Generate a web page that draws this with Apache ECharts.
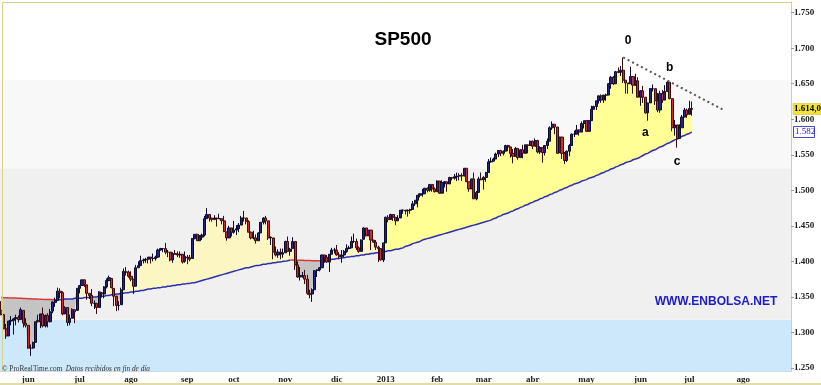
<!DOCTYPE html>
<html><head><meta charset="utf-8">
<script src="https://cdn.jsdelivr.net/npm/echarts@6/dist/echarts.min.js"></script>
<style>html,body{margin:0;padding:0;background:#fff}#c{width:821px;height:385px}</style>
</head><body><div id="c"></div>
<script>
// ---- data: daily [open, close, low, high] per month ----
const monthNames = ['may','jun','jul','ago','sep','oct','nov','dic','2013','feb','mar','abr','may','jun','jul','ago'];
const may12 = [[1331,1325,1324,1344],[1325,1305,1305,1326],[1305,1295,1291,1312],[1295,1316,1295,1316],[1316,1317,1310,1323],[1317,1319,1297,1320],[1319,1321,1310,1325],[1321,1318,1314,1324],[1318,1332,1318,1335],[1331,1313,1307,1331],[1313,1310,1307,1320]];
const jun12 = [[1310,1278,1277,1310],[1278,1278,1267,1283],[1278,1286,1277,1287],[1286,1315,1286,1315],[1317,1315,1314,1325],[1315,1326,1306,1326],[1326,1309,1307,1335],[1309,1324,1307,1325],[1324,1315,1307,1327],[1315,1329,1314,1333],[1330,1343,1327,1343],[1342,1345,1336,1349],[1345,1358,1345,1363],[1358,1356,1348,1362],[1356,1326,1324,1358],[1326,1335,1326,1337],[1335,1314,1309,1335],[1314,1320,1310,1325],[1320,1332,1320,1334],[1332,1329,1313,1332],[1331,1362,1331,1362]];
const jul12 = [[1362,1366,1355,1366],[1366,1374,1366,1374],[1374,1368,1364,1374],[1367,1355,1346,1367],[1355,1352,1347,1355],[1352,1341,1337,1361],[1341,1341,1333,1345],[1341,1335,1326,1341],[1335,1357,1335,1358],[1356,1354,1349,1357],[1354,1364,1348,1365],[1364,1373,1362,1376],[1373,1377,1372,1380],[1376,1363,1362,1376],[1362,1351,1337,1362],[1351,1338,1330,1351],[1338,1338,1331,1344],[1339,1360,1339,1363],[1360,1386,1360,1390],[1385,1385,1380,1392],[1385,1379,1377,1387]];
const ago12 = [[1379,1375,1372,1386],[1375,1365,1354,1375],[1365,1391,1365,1395],[1391,1394,1391,1400],[1394,1401,1394,1408],[1401,1402,1397,1404],[1402,1403,1398,1405],[1403,1406,1397,1406],[1406,1404,1397,1406],[1404,1404,1400,1411],[1404,1406,1401,1408],[1406,1416,1405,1418],[1416,1418,1415,1419],[1418,1418,1413,1418],[1418,1413,1410,1426],[1413,1413,1406,1416],[1413,1402,1400,1413],[1402,1411,1398,1413],[1411,1410,1409,1416],[1410,1409,1406,1414],[1409,1410,1405,1414],[1410,1399,1397,1410],[1400,1407,1398,1414]];
const sep12 = [[1406,1405,1396,1409],[1405,1403,1400,1409],[1404,1432,1404,1433],[1432,1438,1431,1438],[1438,1429,1429,1439],[1429,1434,1429,1437],[1434,1437,1430,1439],[1437,1460,1435,1464],[1460,1466,1460,1475],[1466,1461,1456,1466],[1461,1459,1456,1461],[1459,1461,1458,1465],[1461,1460,1449,1461],[1460,1460,1460,1467],[1460,1457,1452,1460],[1457,1442,1441,1464],[1441,1433,1429,1442],[1433,1447,1433,1450],[1447,1441,1435,1447]];
const oct12 = [[1441,1444,1439,1457],[1444,1446,1437,1451],[1446,1451,1441,1454],[1451,1461,1451,1464],[1461,1461,1456,1471],[1461,1456,1452,1461],[1456,1441,1441,1458],[1441,1433,1431,1442],[1433,1433,1431,1443],[1433,1429,1425,1438],[1429,1440,1429,1441],[1440,1455,1440,1455],[1455,1461,1452,1462],[1461,1457,1452,1464],[1457,1433,1430,1457],[1433,1434,1423,1435],[1433,1413,1403,1433],[1413,1409,1407,1421],[1409,1413,1405,1417],[1413,1412,1403,1418],[1410,1412,1405,1418]];
const nov12 = [[1412,1428,1412,1429],[1428,1414,1413,1435],[1414,1417,1408,1419],[1418,1428,1418,1434],[1428,1395,1388,1428],[1395,1378,1377,1400],[1378,1380,1373,1392],[1380,1380,1377,1385],[1380,1375,1368,1388],[1375,1355,1353,1381],[1355,1353,1348,1360],[1354,1360,1343,1362],[1360,1387,1360,1387],[1387,1388,1378,1389],[1388,1391,1386,1392],[1391,1409,1391,1409],[1409,1406,1398,1409],[1406,1399,1398,1409],[1399,1410,1385,1410],[1410,1416,1410,1419],[1416,1416,1411,1419]];
const dic12 = [[1416,1409,1408,1423],[1409,1407,1403,1413],[1407,1409,1398,1416],[1409,1414,1406,1416],[1414,1418,1412,1424],[1418,1419,1417,1422],[1419,1428,1419,1435],[1428,1428,1426,1439],[1428,1419,1416,1432],[1419,1414,1412,1421],[1414,1430,1414,1431],[1431,1447,1431,1448],[1447,1436,1435,1447],[1436,1444,1436,1444],[1444,1430,1416,1444],[1430,1427,1426,1430],[1427,1420,1416,1430],[1420,1418,1399,1422],[1418,1402,1401,1418],[1402,1426,1399,1426]];
const ene13 = [[1426,1462,1426,1463],[1462,1459,1455,1465],[1459,1466,1459,1467],[1466,1462,1457,1466],[1462,1457,1451,1462],[1457,1461,1457,1465],[1461,1472,1461,1472],[1472,1472,1467,1473],[1472,1471,1466,1472],[1471,1472,1463,1473],[1472,1473,1467,1474],[1473,1481,1473,1485],[1481,1486,1478,1486],[1486,1493,1476,1493],[1493,1495,1490,1496],[1495,1495,1491,1502],[1495,1503,1495,1503],[1503,1500,1497,1504],[1500,1508,1498,1509],[1508,1502,1498,1509],[1502,1498,1497,1504]];
const feb13 = [[1498,1513,1498,1514],[1513,1496,1495,1513],[1496,1511,1496,1514],[1511,1512,1504,1513],[1512,1509,1498,1512],[1509,1518,1509,1519],[1518,1517,1514,1518],[1517,1519,1515,1523],[1519,1520,1513,1525],[1520,1521,1514,1524],[1521,1520,1513,1524],[1520,1531,1520,1531],[1531,1512,1512,1531],[1512,1502,1498,1512],[1502,1516,1502,1516],[1516,1488,1488,1525],[1488,1497,1486,1499],[1497,1516,1497,1519],[1516,1515,1514,1525]];
const mar13 = [[1515,1518,1501,1520],[1518,1525,1512,1526],[1525,1540,1525,1544],[1540,1541,1539,1546],[1541,1544,1541,1546],[1544,1551,1544,1553],[1551,1556,1547,1556],[1556,1552,1548,1557],[1552,1555,1549,1556],[1555,1563,1555,1564],[1563,1561,1555,1564],[1561,1552,1546,1561],[1552,1548,1538,1558],[1548,1559,1548,1561],[1559,1546,1543,1559],[1546,1557,1546,1558],[1557,1552,1545,1564],[1552,1564,1552,1564],[1564,1563,1552,1564],[1563,1569,1563,1570]];
const abr13 = [[1569,1562,1558,1570],[1562,1570,1562,1573],[1570,1554,1552,1571],[1554,1560,1551,1562],[1560,1553,1539,1560],[1553,1563,1549,1563],[1563,1569,1558,1573],[1569,1588,1569,1590],[1588,1593,1585,1597],[1593,1589,1579,1593],[1589,1552,1552,1589],[1553,1575,1553,1575],[1575,1552,1544,1575],[1552,1542,1537,1554],[1542,1555,1540,1556],[1555,1563,1548,1565],[1563,1579,1563,1580],[1579,1579,1575,1584],[1579,1585,1579,1592],[1585,1582,1577,1586],[1582,1594,1582,1597],[1594,1598,1587,1598]];
const may13 = [[1598,1583,1582,1598],[1583,1598,1583,1599],[1598,1614,1598,1619],[1614,1618,1614,1619],[1618,1626,1613,1626],[1626,1633,1622,1633],[1633,1627,1623,1635],[1627,1634,1623,1634],[1634,1634,1626,1636],[1634,1650,1634,1651],[1650,1659,1643,1661],[1659,1650,1648,1661],[1650,1667,1650,1668],[1667,1666,1665,1673],[1666,1669,1661,1675],[1669,1655,1651,1687],[1655,1651,1636,1655],[1651,1650,1636,1650],[1650,1660,1650,1674],[1660,1648,1636,1660],[1648,1654,1647,1664],[1654,1631,1631,1659]];
const jun13 = [[1631,1640,1619,1641],[1640,1631,1623,1647],[1631,1609,1608,1631],[1609,1623,1598,1623],[1623,1643,1623,1644],[1643,1643,1639,1649],[1643,1626,1620,1643],[1626,1613,1610,1637],[1613,1636,1609,1640],[1636,1627,1623,1641],[1627,1639,1627,1648],[1639,1652,1639,1654],[1652,1629,1628,1652],[1629,1588,1583,1629],[1588,1592,1577,1599],[1592,1573,1560,1592],[1573,1588,1573,1593],[1588,1603,1588,1606],[1603,1613,1603,1616],[1613,1606,1602,1615]];
const jul13 = [[1607,1615,1607,1626],[1615,1614,1605,1625]];
const ago13 = [];
const ohlcByMonth = [may12,jun12,jul12,ago12,sep12,oct12,nov12,dic12,ene13,feb13,mar13,abr13,may13,jun13,jul13,ago13];

// ---- moving average per month ----
const maMay12 = [1349.2,1349.0,1348.9,1348.7,1348.6,1348.4,1348.3,1348.1,1348.0,1347.8,1347.7];
const maJun12 = [1347.5,1347.4,1347.2,1347.1,1346.9,1346.8,1346.6,1346.5,1346.3,1346.2,1346.0,1345.9,1346,1346,1346,1347,1347,1347,1347,1348,1348];
const maJul12 = [1348,1348,1349,1349,1349,1350,1350,1350,1351,1351,1351,1352,1352,1353,1353,1354,1354,1355,1355,1356,1356];
const maAgo12 = [1357,1357,1358,1358,1359,1359,1360,1361,1361,1362,1362,1363,1363,1364,1364,1365,1365,1366,1366,1367,1367,1368,1368];
const maSep12 = [1369,1369,1370,1370,1371,1372,1373,1374,1375,1376,1377,1378,1379,1380,1381,1382,1383,1384,1385];
const maOct12 = [1386,1387,1388,1389,1390,1391,1391,1392,1393,1394,1394,1395,1396,1396,1397,1397,1398,1398,1399,1399,1400];
const maNov12 = [1400,1401,1401.9,1401.8,1401.7,1401.6,1401.5,1401.4,1401.3,1401.2,1401.1,1401.0,1400.9,1400.8,1400.7,1401,1401,1402,1402,1403,1403];
const maDic12 = [1404,1404,1405,1405,1406,1406,1407,1407,1408,1408,1409,1409,1410,1410,1411,1411,1412,1412,1413,1413];
const maEne13 = [1414,1415,1415,1416,1417,1417,1418,1419,1421,1422,1423,1425,1426,1427,1428,1430,1431,1432,1433,1434,1435];
const maFeb13 = [1436,1437,1438,1439,1440,1441,1442,1443,1444,1445,1446,1447,1448,1449,1450,1451,1452,1453,1454];
const maMar13 = [1455,1456,1457,1458,1460,1461,1463,1464,1466,1467,1468,1470,1471,1473,1474,1476,1477,1479,1480,1482];
const maAbr13 = [1483,1485,1486,1488,1489,1491,1492,1494,1495,1497,1498,1500,1501,1503,1504,1506,1507,1509,1510,1511,1513,1514];
const maMay13 = [1515,1517,1518,1519,1521,1522,1524,1525,1527,1528,1530,1531,1533,1534,1536,1537,1539,1540,1541,1543,1544,1545];
const maJun13 = [1547,1549,1551,1552,1554,1556,1557,1559,1561,1562,1564,1566,1567,1569,1571,1572,1574,1576,1577,1579];
const maJul13 = [1580,1582];
const maAgo13 = [];
const maByMonth = [maMay12,maJun12,maJul12,maAgo12,maSep12,maOct12,maNov12,maDic12,maEne13,maFeb13,maMar13,maAbr13,maMay13,maJun13,maJul13,maAgo13];

// empty future trading-day slots per month
const blankDays = [0,0,0,0,0,0,0,0,0,0,0,0,0,0,20,20];

const yTicks = [1250,1300,1350,1400,1450,1500,1550,1600,1650,1700,1750];
const zoneEdges = [1245,1318,1531,1655];          // background zone limits
const trendLine = [[254,1687],[295,1613]];         // [day index, value]
const waveLabels = [['0',256,1711],['a',263,1581],['b',273,1672],['c',276,1540]];
const title = 'SP500';
const brightFromLabel = '2013';

// ---- build series tables ----
const cats=[], axisText=[], monthStart=[], ohlc=[], ma=[];
let brightFrom = 0;
monthNames.forEach((mn,m)=>{
  const rows = ohlcByMonth[m], mas = maByMonth[m];
  if (mn===brightFromLabel) brightFrom = cats.length;
  const n = rows.length + blankDays[m];
  for (let j=0;j<n;j++){
    cats.push(m+'_'+j); axisText.push(mn); monthStart.push(j===0 && m>0);
    if (j<rows.length){ ohlc.push(rows[j]); ma.push(mas[j]); }
  }
});
const close = ohlc.map(r=>r[1]);
const base=[], pale=[], bright=[], grey=[];
close.forEach((c,i)=>{
  const a = ma[i];
  base.push(Math.min(c,a));
  const up = c>=a ? c-a : 0, dn = c<a ? a-c : 0;
  pale.push(i<brightFrom?up:0); bright.push(i>=brightFrom?up:0); grey.push(dn);
});
const segRed = ma.map((v,i)=> i>0 && v<ma[i-1]);
const redLine = ma.map((v,j)=> (segRed[j] || segRed[j+1]) ? v : '-');
const blueLine = ma.map((v,j)=> ((j>0 && !segRed[j]) || (j+1<ma.length && !segRed[j+1])) ? v : '-');

const fmtK = v => String(v).replace(/\B(?=(\d{3})+(?!\d))/g,'.');
const serif = '"Liberation Serif", "Times New Roman", serif';
const sans = '"Liberation Sans", Arial, sans-serif';

const chart = echarts.init(document.getElementById('c'), null, {renderer:'canvas'});
const fillCommon = {type:'line', stack:'fill', symbol:'none', showSymbol:false, lineStyle:{width:0, opacity:0}, z:2, silent:true, animation:false};
chart.setOption({
  animation:false,
  backgroundColor:'#ffffff',
  grid:{left:0, right:30, top:2, bottom:13.5, containLabel:false, outerBoundsMode:'none'},
  xAxis:{type:'category', data:cats, boundaryGap:true,
    axisLine:{show:true, lineStyle:{color:'#cfcfcf'}},
    axisTick:{show:true, inside:true, length:3, alignWithLabel:true, interval:(i)=>monthStart[i], lineStyle:{color:'#aaa'}},
    axisLabel:{interval:(i)=>monthStart[i], formatter:(v,i)=>axisText[i], fontFamily:serif, fontWeight:'bold', fontSize:9, color:'#222', margin:4},
    splitLine:{show:false}},
  yAxis:{type:'value', position:'right', min:1245, max:1765, scale:true,
    axisLine:{show:true, lineStyle:{color:'#d6cea0'}},
    axisTick:{show:true, customValues:yTicks, length:3, lineStyle:{color:'#999'}},
    axisLabel:{customValues:yTicks, formatter:v=>fmtK(v), fontFamily:serif, fontWeight:'bold', fontSize:9, color:'#222', margin:3},
    splitLine:{show:false}},
  series:[
    Object.assign({}, fillCommon, {name:'base', data:base,
      markArea:{silent:true, z:1, data:[
        [{yAxis:zoneEdges[0], itemStyle:{color:'#cde8fb'}},{yAxis:zoneEdges[1]}],
        [{yAxis:zoneEdges[1], itemStyle:{color:'#f0f0f0'}},{yAxis:zoneEdges[2]}],
        [{yAxis:zoneEdges[2], itemStyle:{color:'#f8f8f8'}},{yAxis:zoneEdges[3]}]
      ]}}),
    Object.assign({}, fillCommon, {name:'pale', data:pale, areaStyle:{color:'#fbf6c2', opacity:1}}),
    Object.assign({}, fillCommon, {name:'bright', data:bright, areaStyle:{color:'#ffff96', opacity:1}}),
    Object.assign({}, fillCommon, {name:'grey', data:grey, areaStyle:{color:'#c4c4c4', opacity:1}}),
    {type:'line', name:'maBlue', data:blueLine, symbol:'none', connectNulls:false, lineStyle:{color:'#2e2eb4', width:1.5}, z:3, silent:true},
    {type:'line', name:'maRed', data:redLine, symbol:'none', connectNulls:false, lineStyle:{color:'#e03535', width:1.5}, z:3, silent:true},
    {type:'candlestick', name:'SP500', data:ohlc, barWidth:2.6, z:4,
      itemStyle:{color:'#22228a', color0:'#d42a2a', borderColor:'#0c0c30', borderColor0:'#3a0c0c', borderWidth:1}},
    {type:'line', name:'trend', data:trendLine, symbol:'none', lineStyle:{color:'#555', width:2, type:[2,3]}, z:5, silent:true}
  ]
});

const lastClose = close[close.length-1], lastMA = ma[ma.length-1];
const yC = chart.convertToPixel({yAxisIndex:0}, lastClose);
const yM = chart.convertToPixel({yAxisIndex:0}, lastMA);
const closeTxt = fmtK(Math.floor(lastClose)) + ',' + String(Math.floor(lastClose*10)%10);
const waveGraphics = waveLabels.map(w=>{
  const p = chart.convertToPixel({xAxisIndex:0, yAxisIndex:0}, [w[1], w[2]]);
  return {type:'text', x:p[0], y:p[1], style:{text:w[0], font:'bold 12px '+sans, fill:'#000', align:'center', verticalAlign:'middle'}, z:10, silent:true};
});
chart.setOption({graphic:[
  {type:'line', shape:{x1:2.5,y1:2,x2:2.5,y2:372}, style:{stroke:'#d9d18a', lineWidth:1}, z:10, silent:true},
  {type:'line', shape:{x1:2,y1:2.5,x2:791,y2:2.5}, style:{stroke:'#d9d18a', lineWidth:1}, z:10, silent:true},
  {type:'line', shape:{x1:0,y1:384,x2:821,y2:384}, style:{stroke:'#d9d18a', lineWidth:1.5}, z:10, silent:true},
  {type:'text', x:403, y:40, style:{text:title, font:'bold 19px '+sans, fill:'#000', align:'center', verticalAlign:'middle'}, z:10, silent:true},
  {type:'text', x:716, y:302, style:{text:'WWW.ENBOLSA.NET', font:'bold 12px '+sans, fill:'#1c1cc8', align:'center', verticalAlign:'middle'}, z:10, silent:true},
  {type:'text', x:2, y:369, style:{text:'{a|© ProRealTime.com} {b|Datos recibidos en fin de día}', align:'left', verticalAlign:'middle',
     rich:{a:{font:'7.3px '+serif, fill:'#333', color:'#333'}, b:{font:'italic 7.3px '+serif, fill:'#333', color:'#333'}}}, z:10, silent:true},
  {type:'rect', shape:{x:793, y:Math.round(yC)-5.5, width:30, height:11}, style:{fill:'#f2e23a', stroke:'#c9b820', lineWidth:0.5}, z:10, silent:true},
  {type:'text', x:794, y:Math.round(yC), style:{text:closeTxt, font:'bold 9px '+serif, fill:'#000', align:'left', verticalAlign:'middle'}, z:11, silent:true},
  {type:'rect', shape:{x:793.5, y:Math.round(yM)-5.5, width:21, height:11}, style:{fill:'#fff', stroke:'#4848d0', lineWidth:1}, z:10, silent:true},
  {type:'text', x:795, y:Math.round(yM), style:{text:fmtK(lastMA), font:'9px '+serif, fill:'#2020c0', align:'left', verticalAlign:'middle'}, z:11, silent:true}
].concat(waveGraphics)});
</script></body></html>
